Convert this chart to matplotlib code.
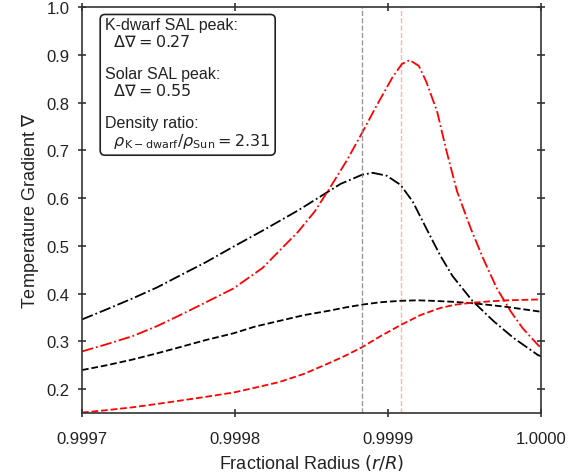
import numpy as np
import matplotlib
matplotlib.use('Agg')
import matplotlib.pyplot as plt

plt.rcParams['font.family'] = ['Liberation Sans', 'DejaVu Sans']
plt.rcParams['mathtext.fontset'] = 'dejavusans'

# K-dwarf SAL gradient (black dash-dot)
x_kd = [0.999700, 0.999716, 0.999733, 0.999749, 0.999764, 0.999781, 0.999797,
        0.999818, 0.999841, 0.999862, 0.999869, 0.999883, 0.999890, 0.999899,
        0.999908, 0.999916, 0.999925, 0.999934, 0.999942, 0.999955, 0.999969,
        0.999982, 0.999998, 1.0]
grad_kd_sal = [0.346, 0.367, 0.390, 0.413, 0.438, 0.466, 0.495,
               0.532, 0.574, 0.616, 0.630, 0.649, 0.653, 0.647,
               0.628, 0.593, 0.536, 0.480, 0.437, 0.385, 0.342,
               0.307, 0.271, 0.269]

# Solar SAL gradient (red dash-dot)
x_sun = [0.999700, 0.999716, 0.999733, 0.999749, 0.999764, 0.999781, 0.999799,
         0.999818, 0.999829, 0.999841, 0.999852, 0.999862, 0.999873, 0.999883,
         0.999893, 0.999903, 0.999909, 0.999914, 0.999920, 0.999925, 0.999932,
         0.999938, 0.999945, 0.999954, 0.999962, 0.999971, 0.999980, 0.999988,
         0.999998, 1.0]
grad_sun_sal = [0.279, 0.294, 0.311, 0.332, 0.355, 0.382, 0.411,
                0.454, 0.490, 0.529, 0.572, 0.622, 0.679, 0.737,
                0.797, 0.854, 0.881, 0.889, 0.877, 0.843, 0.781,
                0.700, 0.614, 0.536, 0.474, 0.411, 0.363, 0.327,
                0.292, 0.287]

# K-dwarf adiabatic (black dashed)
x_kd_ad = [0.999700, 0.999716, 0.999733, 0.999749, 0.999764, 0.999781, 0.999799,
           0.999813, 0.999829, 0.999845, 0.999861, 0.999872, 0.999883, 0.999895,
           0.999908, 0.999919, 0.999929, 0.999942, 0.999955, 0.999967, 0.999978,
           0.999989, 1.0]
grad_kd_ad = [0.240, 0.250, 0.262, 0.275, 0.288, 0.303, 0.317,
              0.331, 0.343, 0.355, 0.364, 0.371, 0.377, 0.382,
              0.385, 0.386, 0.385, 0.383, 0.380, 0.376, 0.372,
              0.367, 0.362]

# Solar adiabatic (red dashed)
x_sun_ad = [0.999700, 0.999716, 0.999733, 0.999749, 0.999764, 0.999781, 0.999799,
            0.999813, 0.999829, 0.999845, 0.999861, 0.999872, 0.999883, 0.999895,
            0.999908, 0.999921, 0.999934, 0.999944, 0.999955, 0.999967, 0.999978,
            0.999989, 1.0]
grad_sun_ad = [0.151, 0.156, 0.162, 0.169, 0.176, 0.184, 0.193,
               0.203, 0.215, 0.232, 0.254, 0.270, 0.288, 0.311,
               0.334, 0.355, 0.370, 0.377, 0.381, 0.384, 0.386,
               0.387, 0.388]

peak_kd = 0.999883
peak_sun = 0.9999085

fig = plt.figure(figsize=(5.88, 4.77), dpi=100)
ax = fig.add_axes([0.1395, 0.132, 0.781, 0.851])

ax.plot(x_kd, grad_kd_sal, color='black', ls='-.', lw=1.3)
ax.plot(x_sun, grad_sun_sal, color='red', ls='-.', lw=1.3)
ax.plot(x_kd_ad, grad_kd_ad, color='black', ls='--', lw=1.3)
ax.plot(x_sun_ad, grad_sun_ad, color='red', ls='--', lw=1.3)
ax.axvline(peak_kd, color='grey', ls='--', lw=1, alpha=0.8)
ax.axvline(peak_sun, color='red', ls='--', lw=1, alpha=0.3)

ax.set_xlim(0.9997, 1.0)
ax.set_ylim(0.15, 1.0)
ax.set_xticks([0.9997, 0.9998, 0.9999, 1.0])
ax.set_xticklabels(['0.9997', '0.9998', '0.9999', '1.0000'])
ax.set_yticks(np.arange(0.2, 1.01, 0.1))
ax.set_yticklabels(['%.1f' % v for v in np.arange(0.2, 1.01, 0.1)])

for s in ax.spines.values():
    s.set_color('#333333')
    s.set_linewidth(1.2)
ax.tick_params(direction='inout', length=6, width=1.2, colors='#333333',
               labelcolor='#222222', labelsize=12, top=True, right=True)
ax.tick_params(axis='x', pad=10)
ax.tick_params(axis='y', pad=6)

ax.set_xlabel('Fractional Radius $(r/R)$', fontsize=13, color='#222222')
ax.set_ylabel(r'Temperature Gradient $\nabla$', fontsize=13, color='#222222')

txt = ('K-dwarf SAL peak:\n  $\\Delta\\nabla = 0.27$\n\n'
       'Solar SAL peak:\n  $\\Delta\\nabla = 0.55$\n\n'
       'Density ratio:\n  $\\rho_{\\mathrm{K-dwarf}}/\\rho_{\\mathrm{Sun}} = 2.31$')
ax.text(0.05, 0.975, txt, transform=ax.transAxes, fontsize=11.5, va='top',
        ha='left', color='#222222', linespacing=1.1,
        bbox=dict(boxstyle='round,pad=0.3', fc='white', ec='#222222', lw=1.2))

fig.savefig('out.png', dpi=100)
